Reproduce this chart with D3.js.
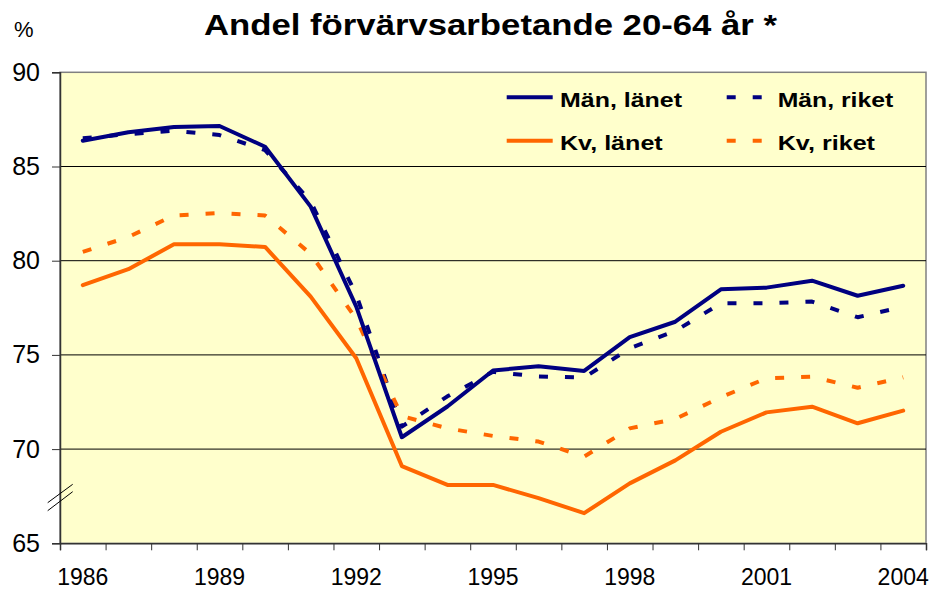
<!DOCTYPE html>
<html>
<head>
<meta charset="utf-8">
<script src="https://cdn.jsdelivr.net/npm/d3@7"></script>
<style>
  body { margin: 0; background: #fff; }
  svg { display: block; font-family: "Liberation Sans", Arial, sans-serif; }
</style>
</head>
<body>
<svg id="chart" width="933" height="591"></svg>
<script>
// data
var years = d3.range(1986, 2005);
var tickYears = [1986, 1989, 1992, 1995, 1998, 2001, 2004];
var yTicks = [65, 70, 75, 80, 85, 90];

var manLan   = [86.37, 86.82, 87.1, 87.15, 86.05, 82.87, 77.56, 70.63, 72.26, 74.17, 74.4, 74.15, 75.94, 76.76, 78.48, 78.57, 78.94, 78.14, 78.67];
var manRiket = [86.5, 86.72, 86.9, 86.67, 85.87, 83.13, 78.2, 71.19, 72.8, 74.1, 73.85, 73.8, 75.35, 76.27, 77.74, 77.74, 77.83, 77.0, 77.56];
var kvLan    = [78.7, 79.55, 80.87, 80.87, 80.73, 78.09, 74.82, 69.1, 68.1, 68.1, 67.4, 66.6, 68.18, 69.4, 70.92, 71.95, 72.25, 71.37, 72.04];
var kvRiket  = [80.47, 81.26, 82.4, 82.53, 82.4, 80.36, 76.9, 71.75, 71.1, 70.7, 70.4, 69.6, 71.1, 71.6, 72.75, 73.76, 73.84, 73.26, 73.81];

var navy = "#000080", orange = "#FF6600";
var series = [
  {name: "Män, länet", values: manLan,   color: navy,   dash: null},
  {name: "Män, riket", values: manRiket, color: navy,   dash: "9,17"},
  {name: "Kv, länet",  values: kvLan,    color: orange, dash: null},
  {name: "Kv, riket",  values: kvRiket,  color: orange, dash: "9,17"}
];

var plotLeft = 60, plotRight = 926, plotTop = 72.3, plotBottom = 543.3;

function draw() {
  var svg = d3.select("#chart");

  var x = d3.scaleBand().domain(years).range([plotLeft, plotRight]).paddingInner(0).paddingOuter(0);
  var xEdge = d3.scaleLinear().domain([0, years.length]).range([plotLeft, plotRight]);
  var y = d3.scaleLinear().domain([65, 90]).range([plotBottom, plotTop]);
  var cx = function(yr) { return x(yr) + x.bandwidth() / 2; };

  // plot background
  svg.append("rect")
    .attr("x", plotLeft).attr("y", plotTop)
    .attr("width", plotRight - plotLeft).attr("height", plotBottom - plotTop)
    .attr("fill", "#FFFFCC")
    .attr("stroke", "#808080").attr("stroke-width", 1.5);

  // gridlines
  svg.append("g").selectAll("line")
    .data([70, 75, 80, 85])
    .enter().append("line")
    .attr("x1", plotLeft).attr("x2", plotRight)
    .attr("y1", function(d) { return y(d); })
    .attr("y2", function(d) { return y(d); })
    .attr("stroke", "#000").attr("stroke-width", 1);

  // y axis
  var yAxis = svg.append("g")
    .attr("transform", "translate(" + plotLeft + ",0)")
    .call(d3.axisLeft(y).tickValues(yTicks).tickSize(8).tickPadding(12).tickFormat(d3.format("d")));
  yAxis.select(".domain").attr("stroke", "#333").attr("stroke-width", 1.5);
  yAxis.selectAll(".tick line").attr("stroke", "#333");
  yAxis.selectAll("text")
    .attr("font-size", "25px").attr("fill", "#000")
    .attr("font-family", "Liberation Sans, Arial, sans-serif")
    .attr("dy", "0.32em");

  // x axis: ticks at category edges
  var xAxis = svg.append("g")
    .attr("transform", "translate(0," + plotBottom + ")")
    .call(d3.axisBottom(xEdge).tickValues(d3.range(0, years.length + 1)).tickSize(7).tickFormat(""));
  xAxis.select(".domain").attr("stroke", "#333").attr("stroke-width", 1.5);
  xAxis.selectAll(".tick line").attr("stroke", "#333");

  svg.append("g").selectAll("text")
    .data(tickYears)
    .enter().append("text")
    .attr("x", function(d) { return cx(d); })
    .attr("y", 585)
    .attr("text-anchor", "middle")
    .attr("font-size", "23px")
    .text(function(d) { return d; });

  // axis break marks
  svg.append("line").attr("x1", 47.7).attr("y1", 502.7).attr("x2", 72.7).attr("y2", 484.3)
    .attr("stroke", "#000").attr("stroke-width", 1);
  svg.append("line").attr("x1", 47.7).attr("y1", 510.7).attr("x2", 72.7).attr("y2", 491.7)
    .attr("stroke", "#000").attr("stroke-width", 1);

  // lines
  var line = d3.line()
    .x(function(d, i) { return cx(years[i]); })
    .y(function(d) { return y(d); });

  // draw riket (dashed) first, länet on top
  [series[1], series[3], series[2], series[0]].forEach(function(s) {
    svg.append("path")
      .attr("d", line(s.values))
      .attr("fill", "none")
      .attr("stroke", s.color)
      .attr("stroke-width", 4)
      .attr("stroke-linejoin", "round")
      .attr("stroke-linecap", s.dash ? "butt" : "round")
      .attr("stroke-dasharray", s.dash);
  });

  // legend
  var legendPos = [
    {lx: 506.7, ly: 97.3,  tx: 560,   ty: 107.3, len: 122},
    {lx: 726.7, ly: 97.3,  tx: 777.7, ty: 107.3, len: 115.6},
    {lx: 506.7, ly: 140.7, tx: 560,   ty: 150,   len: 102.7},
    {lx: 726.7, ly: 140.7, tx: 777.7, ty: 150,   len: 97.3}
  ];
  var lg = svg.append("g");
  series.forEach(function(s, i) {
    var p = legendPos[i];
    lg.append("line")
      .attr("x1", p.lx).attr("x2", p.lx + 46)
      .attr("y1", p.ly).attr("y2", p.ly)
      .attr("stroke", s.color).attr("stroke-width", 4)
      .attr("stroke-dasharray", s.dash);
    lg.append("text")
      .attr("x", p.tx).attr("y", p.ty)
      .attr("font-size", "20.5px").attr("font-weight", "bold")
      .attr("textLength", p.len).attr("lengthAdjust", "spacingAndGlyphs")
      .text(s.name);
  });

  // title and unit
  svg.append("text")
    .attr("x", 204).attr("y", 35)
    .attr("font-size", "30px").attr("font-weight", "bold")
    .attr("textLength", 573).attr("lengthAdjust", "spacingAndGlyphs")
    .text("Andel förvärvsarbetande 20-64 år *");
  svg.append("text")
    .attr("x", 14).attr("y", 37)
    .attr("font-size", "22px")
    .text("%");
}

draw();
</script>
</body>
</html>
